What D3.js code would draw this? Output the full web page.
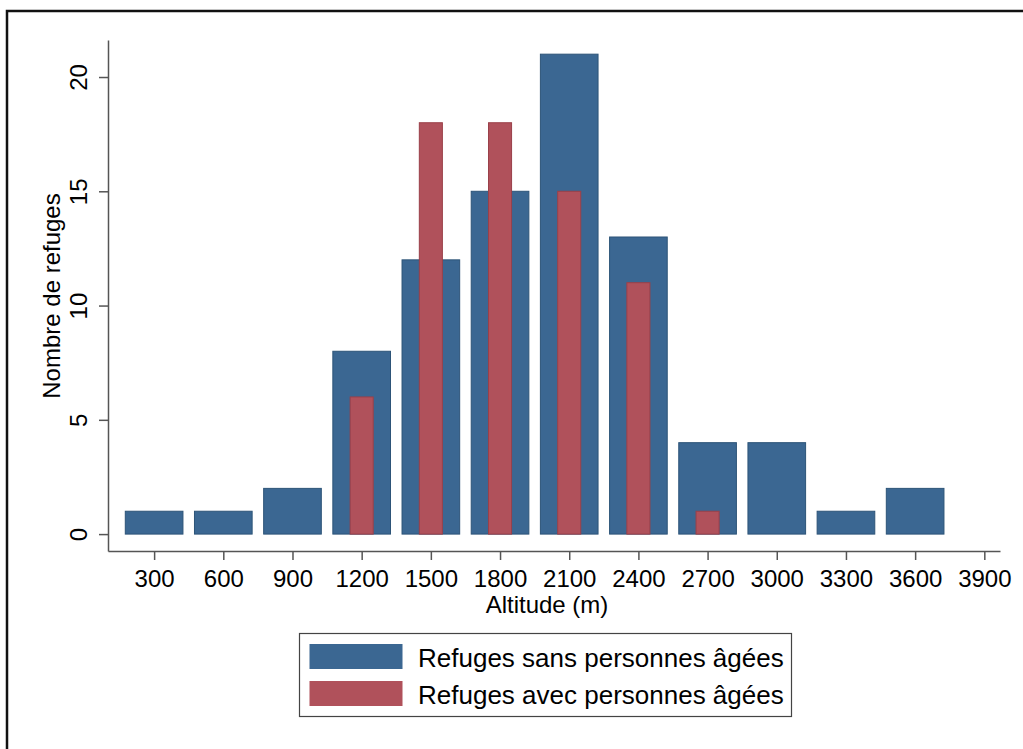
<!DOCTYPE html>
<html>
<head>
<meta charset="utf-8">
<script src="https://cdn.jsdelivr.net/npm/d3@7"></script>
<style>
  body { margin: 0; background: #fff; }
  text { font-family: "Liberation Sans", Arial, sans-serif; fill: #000; }
</style>
</head>
<body>
<div id="chart"></div>
<script>
// altitude classes (m)
const altitudes = [300, 600, 900, 1200, 1500, 1800, 2100, 2400, 2700, 3000, 3300, 3600];
const sansAges = [1, 1, 2, 8, 12, 15, 21, 13, 4, 4, 1, 2];
const avecAges = [0, 0, 0, 6, 18, 18, 15, 11, 1, 0, 0, 0];
const xTicks = [300, 600, 900, 1200, 1500, 1800, 2100, 2400, 2700, 3000, 3300, 3600, 3900];
const yTicks = [0, 5, 10, 15, 20];
const seriesNames = ["Refuges sans personnes âgées", "Refuges avec personnes âgées"];
const colors = ["#3b6792", "#b0515b"];

const W = 1023, H = 749;
const svg = d3.select("#chart").append("svg")
  .attr("width", W).attr("height", H);

// outer frame (only top/left visible in picture)
svg.append("rect")
  .attr("x", 7).attr("y", 11).attr("width", 1200).attr("height", 900)
  .attr("fill", "none").attr("stroke", "#111").attr("stroke-width", 2.5);

const x = d3.scaleLinear().domain([100, 3968]).range([108, 1000]);
const y = d3.scaleLinear().domain([-0.74, 21.62]).range([551, 40]);

const wBlue = 250, wRed = 100;

// blue bars
svg.append("g").selectAll("rect")
  .data(altitudes.map((a, i) => ({a, v: sansAges[i]})).filter(d => d.v > 0))
  .enter().append("rect")
  .attr("x", d => x(d.a - wBlue / 2))
  .attr("width", d => x(d.a + wBlue / 2) - x(d.a - wBlue / 2))
  .attr("y", d => y(d.v))
  .attr("height", d => y(0) - y(d.v))
  .attr("fill", colors[0])
  .attr("stroke", "#2d5478").attr("stroke-width", 1);

// red bars
svg.append("g").selectAll("rect")
  .data(altitudes.map((a, i) => ({a, v: avecAges[i]})).filter(d => d.v > 0))
  .enter().append("rect")
  .attr("x", d => x(d.a - wRed / 2))
  .attr("width", d => x(d.a + wRed / 2) - x(d.a - wRed / 2))
  .attr("y", d => y(d.v))
  .attr("height", d => y(0) - y(d.v))
  .attr("fill", colors[1])
  .attr("stroke", "#9a4049").attr("stroke-width", 1);

// x axis
const xAxis = svg.append("g")
  .attr("transform", "translate(0," + 551 + ")")
  .call(d3.axisBottom(x).tickValues(xTicks).tickSize(9).tickPadding(10).tickSizeOuter(0).tickFormat(d3.format("d")));
xAxis.select(".domain").attr("stroke", "#555").attr("stroke-width", 1.5);
xAxis.selectAll(".tick line").attr("stroke", "#555").attr("stroke-width", 1.5);
xAxis.selectAll(".tick text").style("font-size", "24px").attr("fill", "#000");

// y axis
const yAxis = svg.append("g")
  .attr("transform", "translate(108,0)")
  .call(d3.axisLeft(y).tickValues(yTicks).tickSize(9).tickSizeOuter(0));
yAxis.select(".domain").attr("stroke", "#555").attr("stroke-width", 1.5);
yAxis.selectAll(".tick line").attr("stroke", "#555").attr("stroke-width", 1.5);
yAxis.selectAll(".tick text")
  .attr("x", 0).attr("dy", null)
  .attr("transform", "translate(-30,0) rotate(-90)")
  .attr("text-anchor", "middle")
  .attr("dominant-baseline", "central")
  .style("font-size", "24px").attr("fill", "#000");

// axis titles
svg.append("text")
  .attr("x", 547).attr("y", 613)
  .attr("text-anchor", "middle")
  .style("font-size", "24px")
  .text("Altitude (m)");

svg.append("text")
  .attr("transform", "translate(60,296) rotate(-90)")
  .attr("text-anchor", "middle")
  .style("font-size", "24px")
  .text("Nombre de refuges");

// legend
const leg = svg.append("g");
leg.append("rect")
  .attr("x", 299.5).attr("y", 633.5).attr("width", 492).attr("height", 83)
  .attr("fill", "#fff").attr("stroke", "#444").attr("stroke-width", 1.2);
seriesNames.forEach((n, i) => {
  leg.append("rect")
    .attr("x", 309.5).attr("y", 644 + i * 37).attr("width", 93).attr("height", 25)
    .attr("fill", colors[i]);
  leg.append("text")
    .attr("x", 418).attr("y", 658 + i * 37)
    .attr("dominant-baseline", "central")
    .style("font-size", "26px")
    .text(n);
});
</script>
</body>
</html>
